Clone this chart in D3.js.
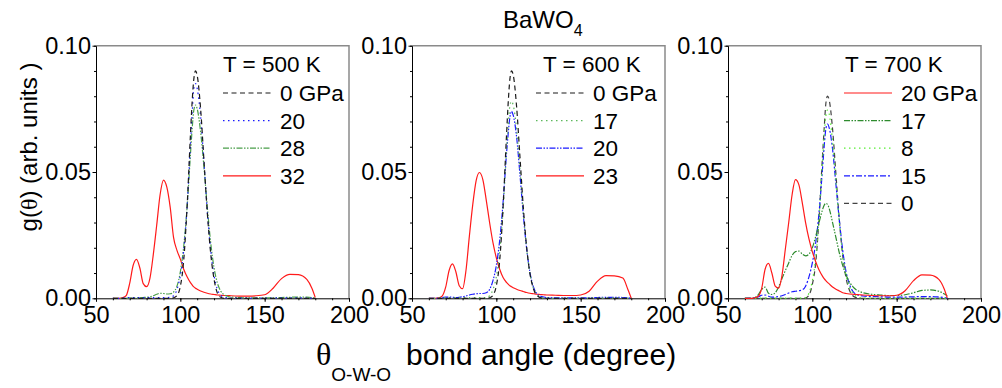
<!DOCTYPE html>
<html>
<head>
<meta charset="utf-8">
<script src="https://cdn.jsdelivr.net/npm/d3@7"></script>
<style>
  body { margin: 0; background: #fff; }
  text { font-family: Arial, "Liberation Sans", sans-serif; fill: #000; }
</style>
</head>
<body>
<svg id="chart" width="1002" height="388"></svg>
<script>
// bond angle grid (degree)
const theta = [60, 64, 66, 68, 70, 72, 74, 76, 78, 80,
  82, 84, 86, 88, 90, 92, 94, 96, 98, 100,
  102, 104, 106, 107, 108, 109, 110, 112,
  114, 116, 118, 120, 122, 124, 126, 128, 130,
  135, 140, 145, 150, 155, 160, 165, 170, 175, 178, 180];

// T = 500 K
const t500_0 = [0, 0, 0, 0, 0, 0, 0, 0, 0, 0,
  0, 0, 0, 0, 0, 0, 0, .0002, .0011, .0047,
  .0150, .0362, .0648, .0778, .0868, .0900, .0882, .0752,
  .0546, .0338, .0178, .0075, .0020, .0004, 0, 0, 0,
  0, 0, 0, 0, 0, 0, 0, 0, 0, 0, 0];
const t500_20 = [0, 0, .0001, .0002, .0003, .0003, .0003, .0003, .0003, .0003,
  .0003, .0003, .0003, .0003, .0003, .0003, .0004, .0010, .0035, .0090,
  .0190, .0360, .0610, .0730, .0830, .0850, .0830, .0720,
  .0540, .0345, .0190, .0090, .0035, .0012, .0004, .0002, .0001,
  .0001, .0001, .0001, .0001, .0001, .0002, .0002, .0002, .0001, .0001, 0];
const t500_28 = [0, 0, 0, 0, .0001, .0001, .0002, .0002, .0003, .0004,
  .0006, .0010, .0016, .0020, .0019, .0017, .0018, .0025, .0048, .0105,
  .0205, .0360, .0570, .0670, .0745, .0765, .0750, .0660,
  .0520, .0360, .0220, .0120, .0060, .0028, .0014, .0008, .0005,
  .0003, .0002, .0002, .0002, .0002, .0003, .0004, .0005, .0005, .0003, 0];
const t500_32 = [0, 0, .0003, .0012, .0060, .0130, .0154, .0120, .0058, .0046,
  .0080, .0175, .0290, .0410, .0468, .0440, .0360, .0240, .0190, .0155,
  .0115, .0085, .0062, .0053, .0045, .0040, .0036, .0029,
  .0024, .0020, .0017, .0015, .0013, .0012, .0011, .0011, .0010,
  .0009, .0009, .0010, .0014, .0040, .0078, .0095, .0094, .0075, .0040, .0003];

// T = 600 K
const t600_0 = [0, 0, 0, 0, 0, 0, 0, 0, 0, 0,
  0, 0, 0, 0, 0, 0, 0, .0002, .0012, .0050,
  .0150, .0360, .0640, .0770, .0865, .0900, .0885, .0760,
  .0560, .0360, .0200, .0095, .0038, .0012, .0003, 0, 0,
  0, 0, 0, 0, 0, 0, 0, 0, 0, 0, 0];
const t600_17 = [0, 0, .0001, .0002, .0003, .0003, .0003, .0003, .0003, .0003,
  .0003, .0003, .0003, .0003, .0003, .0003, .0003, .0010, .0035, .0085,
  .0185, .0350, .0580, .0680, .0760, .0780, .0765, .0670,
  .0510, .0340, .0195, .0095, .0040, .0015, .0005, .0002, .0001,
  .0001, .0001, .0001, .0001, .0001, .0002, .0002, .0002, .0001, .0001, 0];
const t600_20 = [0, 0, .0001, .0003, .0005, .0005, .0004, .0003, .0004, .0006,
  .0009, .0013, .0016, .0018, .0019, .0019, .0022, .0035, .0070, .0130,
  .0230, .0380, .0570, .0650, .0715, .0740, .0725, .0640,
  .0490, .0330, .0195, .0100, .0045, .0019, .0009, .0005, .0003,
  .0002, .0002, .0002, .0002, .0002, .0003, .0004, .0004, .0003, .0002, 0];
const t600_23 = [0, 0, .0002, .0010, .0045, .0110, .0136, .0105, .0050, .0038,
  .0110, .0245, .0370, .0465, .0498, .0470, .0390, .0300, .0220, .0160,
  .0115, .0082, .0063, .0056, .0050, .0046, .0042, .0036,
  .0031, .0027, .0023, .0020, .0018, .0016, .0015, .0014, .0013,
  .0012, .0011, .0011, .0013, .0028, .0068, .0090, .0089, .0080, .0035, 0];

// T = 700 K
const t700_20 = [0, 0, .0002, .0008, .0040, .0115, .0138, .0100, .0048, .0040,
  .0090, .0195, .0300, .0410, .0470, .0450, .0380, .0300, .0235, .0185,
  .0145, .0112, .0088, .0078, .0070, .0063, .0057, .0045,
  .0036, .0029, .0022, .0019, .0017, .0016, .0015, .0014, .0013,
  .0011, .0010, .0010, .0012, .0030, .0070, .0093, .0092, .0075, .0040, .0002];
const t700_17 = [0, 0, .0003, .0015, .0035, .0044, .0020, .0015, .0022, .0045,
  .0078, .0110, .0140, .0170, .0185, .0187, .0175, .0168, .0175, .0200,
  .0245, .0300, .0350, .0368, .0376, .0372, .0355, .0300,
  .0240, .0180, .0130, .0092, .0065, .0046, .0034, .0027, .0022,
  .0016, .0013, .0011, .0011, .0014, .0022, .0031, .0033, .0028, .0018, .0010];
const t700_8 = [0, 0, 0, 0, .0001, .0001, .0001, .0001, .0001, .0001,
  .0001, .0001, .0001, .0001, .0001, .0001, .0001, .0002, .0020, .0070,
  .0160, .0320, .0540, .0640, .0720, .0745, .0730, .0620,
  .0460, .0300, .0175, .0092, .0045, .0020, .0008, .0003, .0001,
  0, 0, 0, 0, 0, 0, 0, 0, 0, 0, 0];
const t700_15 = [0, .0001, .0002, .0006, .0012, .0013, .0008, .0005, .0005, .0007,
  .0010, .0015, .0021, .0026, .0028, .0030, .0033, .0048, .0085, .0140,
  .0220, .0340, .0510, .0600, .0670, .0690, .0675, .0590,
  .0450, .0310, .0190, .0105, .0055, .0028, .0016, .0011, .0009,
  .0007, .0006, .0005, .0005, .0005, .0006, .0007, .0007, .0005, .0003, .0001];
const t700_0 = [0, 0, 0, 0, 0, 0, 0, 0, 0, 0,
  0, 0, 0, 0, 0, 0, 0, .0001, .0012, .0055,
  .0140, .0320, .0560, .0670, .0770, .0800, .0785, .0670,
  .0490, .0310, .0170, .0080, .0032, .0010, .0003, 0, 0,
  0, 0, 0, 0, 0, 0, 0, 0, 0, 0, 0];

const xTicks = [50, 100, 150, 200];
const xMinor = d3.range(50, 201, 10);
const yTicks = [0, 0.05, 0.10];
const yMinor = d3.range(0, 0.1001, 0.01);

const DASH = "5,3.5", DOT = "1.5,3.5", DDD = "6,1.5,1.5,1.5,1.5,1.5", DD = "6,2,2,2";

const panels = [
  { title: "T = 500 K", left: 96, titleX: 127, lineX: 127, series: [
    { label: "0 GPa", values: t500_0, color: "#1a1a1a", dash: DASH },
    { label: "20", values: t500_20, color: "#1a1aff", dash: DOT },
    { label: "28", values: t500_28, color: "#4a9e4a", dash: DDD },
    { label: "32", values: t500_32, color: "#ff1a1a", dash: null }
  ]},
  { title: "T = 600 K", left: 412, titleX: 131, lineX: 124, series: [
    { label: "0 GPa", values: t600_0, color: "#1a1a1a", dash: DASH },
    { label: "17", values: t600_17, color: "#5cb85c", dash: DOT },
    { label: "20", values: t600_20, color: "#1a1aff", dash: DDD },
    { label: "23", values: t600_23, color: "#ff1a1a", dash: null }
  ]},
  { title: "T = 700 K", left: 728, titleX: 117, lineX: 116, series: [
    { label: "20 GPa", values: t700_20, color: "#ff1a1a", dash: null },
    { label: "17", values: t700_17, color: "#2e8b2e", dash: DDD },
    { label: "8", values: t700_8, color: "#55ee33", dash: DOT },
    { label: "15", values: t700_15, color: "#1a1aff", dash: DD },
    { label: "0", values: t700_0, color: "#444", dash: DASH }
  ]}
];

const plotTop = 45.7, w = 253, h = 252.6;
const x = d3.scaleLinear().domain([50, 200]).range([0, w]);
const y = d3.scaleLinear().domain([0, 0.1]).range([h, 0]);
const line = d3.line()
  .x((d, i) => x(theta[i]))
  .y(d => y(d))
  .curve(d3.curveMonotoneX);

const svg = d3.select('#chart');

panels.forEach(p => {
  const g = svg.append('g').attr('transform', `translate(${p.left},${plotTop})`);

  g.append('path')
    .attr('d', `M0,0H${w}V${h}`)
    .attr('fill', 'none')
    .attr('stroke', '#8a8a8a')
    .attr('stroke-width', 1.5);

  // minor ticks first, majors on top
  g.append('g').attr('transform', `translate(0,${h})`)
    .call(d3.axisBottom(x).tickValues(xMinor).tickSize(2).tickFormat(''))
    .call(s => s.select('.domain').remove());
  g.append('g')
    .call(d3.axisLeft(y).tickValues(yMinor).tickSize(2).tickFormat(''))
    .call(s => s.select('.domain').remove());

  const xa = g.append('g').attr('transform', `translate(0,${h})`)
    .call(d3.axisBottom(x).tickValues(xTicks).tickSize(3.5).tickPadding(5).tickSizeOuter(0));
  const ya = g.append('g')
    .call(d3.axisLeft(y).tickValues(yTicks).tickSize(3.5).tickPadding(1.5).tickSizeOuter(0).tickFormat(d3.format('.2f')));
  [xa, ya].forEach(a => {
    a.selectAll('text').style('font-size', '23.5px').style('font-family', 'Arial, "Liberation Sans", sans-serif');
    a.selectAll('line, path').attr('stroke', '#000');
  });

  // curves, first legend entry on top
  p.series.slice().reverse().forEach(s => {
    g.append('path')
      .attr('d', line(s.values))
      .attr('fill', 'none')
      .attr('stroke', s.color)
      .attr('stroke-width', 1.2)
      .attr('stroke-dasharray', s.dash);
  });

  // legend
  const lg = g.append('g');
  lg.append('text').attr('x', p.titleX).attr('y', 72.5 - plotTop)
    .style('font-size', '22.5px').text(p.title);
  p.series.forEach((s, i) => {
    const ly = 93 - plotTop + i * 27.6;
    lg.append('line')
      .attr('x1', p.lineX).attr('x2', p.lineX + 48)
      .attr('y1', ly).attr('y2', ly)
      .attr('stroke', s.color).attr('stroke-width', 1.2)
      .attr('stroke-dasharray', s.dash);
    lg.append('text').attr('x', p.lineX + 57).attr('y', ly + 8)
      .style('font-size', '22.5px').text(s.label);
  });
});

// chart title
const tt = svg.append('text').attr('x', 503).attr('y', 28.3).style('font-size', '24px');
tt.append('tspan').text('BaWO');
tt.append('tspan').attr('dy', 8).style('font-size', '16px').text('4');

// x axis title
const xt = svg.append('text').attr('x', 316).attr('y', 365).style('font-size', '30px');
xt.append('tspan').style('font-family', '"Liberation Serif", serif').style('font-size', '32px').text('θ');
xt.append('tspan').attr('dy', 16).style('font-size', '19px').text('O-W-O');
xt.append('tspan').attr('x', 406).attr('dy', -16).text('bond angle (degree)');

// y axis title
const yt = svg.append('text')
  .attr('transform', 'translate(37,147) rotate(-90)')
  .attr('text-anchor', 'middle')
  .style('font-size', '24px');
yt.append('tspan').text('g(');
yt.append('tspan').style('font-family', '"Liberation Serif", serif').text('θ');
yt.append('tspan').text(') (arb. units )');
</script>
</body>
</html>
